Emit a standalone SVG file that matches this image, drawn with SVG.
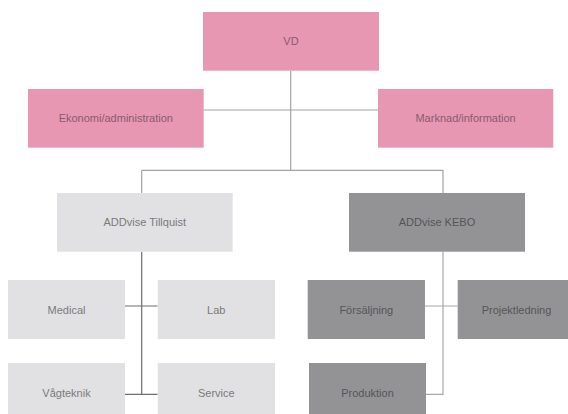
<svg xmlns="http://www.w3.org/2000/svg" width="568" height="414" viewBox="0 0 568 414">
<style>
text{font-family:"Liberation Sans",Arial,sans-serif;font-size:11px;text-anchor:middle;dominant-baseline:central}
.pink rect{fill:#E897B2}
.pink text{fill:#8A5A70}
.light rect{fill:#E1E1E3}
.light text{fill:#7A7A7C}
.dark rect{fill:#939396}
.dark text{fill:#555557}
.c{fill:none;stroke-width:1.2}
.top{stroke:#A3A3A5}
.lo{stroke:#6E6E70}
.lo2{stroke:#A8A8AA}
</style>
<rect width="568" height="414" fill="#FFFFFF"/>
<g id="connectors">
<path class="c top" d="M290.7 70.7V170.3M203.7 110H378M141.7 170.3H443V193M141.7 170.3V193"/>
<path class="c lo" d="M141.7 251.7V394.3M125 306H157.7M125 394.3H157.7"/>
<path class="c lo2" d="M443 251.7V394.3H426M425 306H457.7"/>
</g>
<g id="vd" class="pink"><rect x="203" y="12" width="176" height="58.7"/><text x="291" y="41.3">VD</text></g>
<g id="ekonomi" class="pink"><rect x="28" y="89" width="175.7" height="58.7"/><text x="115.8" y="118.3">Ekonomi/administration</text></g>
<g id="marknad" class="pink"><rect x="378" y="89" width="175.3" height="58.7"/><text x="465.6" y="118.3">Marknad/information</text></g>
<g id="tillquist" class="light"><rect x="57" y="193" width="175.7" height="58.7"/><text x="144.8" y="222.3">ADDvise Tillquist</text></g>
<g id="kebo" class="dark"><rect x="349" y="193" width="176" height="58.7"/><text x="437" y="222.3">ADDvise KEBO</text></g>
<g id="medical" class="light"><rect x="8" y="280" width="117" height="59"/><text x="66.5" y="309.5">Medical</text></g>
<g id="lab" class="light"><rect x="157.7" y="280" width="117.3" height="59"/><text x="216.3" y="309.5">Lab</text></g>
<g id="vagteknik" class="light"><rect x="8" y="363" width="117" height="51"/><text x="66.5" y="393">Vågteknik</text></g>
<g id="service" class="light"><rect x="157.7" y="363" width="117.3" height="51"/><text x="216.3" y="393">Service</text></g>
<g id="forsaljning" class="dark"><rect x="307.7" y="280" width="117.3" height="59"/><text x="366.3" y="309.5">Försäljning</text></g>
<g id="projektledning" class="dark"><rect x="457.7" y="280" width="110.3" height="59"/><text x="516.5" y="309.5">Projektledning</text></g>
<g id="produktion" class="dark"><rect x="309" y="363" width="117" height="51"/><text x="367.5" y="393">Produktion</text></g>
</svg>
